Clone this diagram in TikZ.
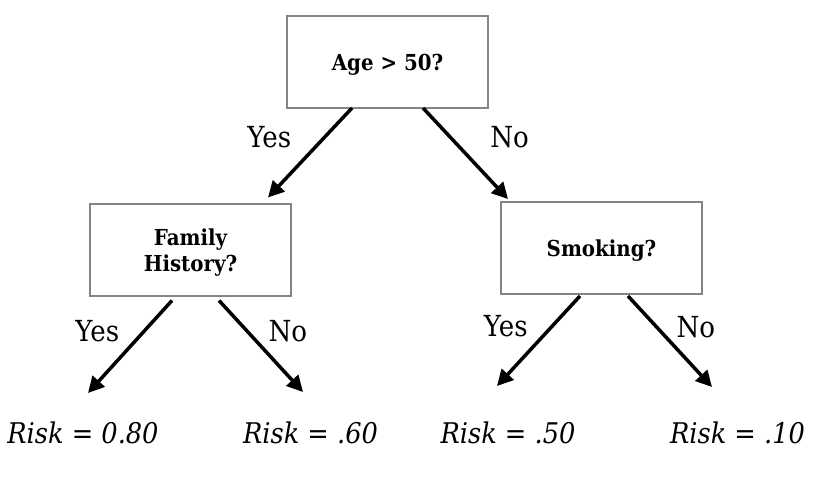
\documentclass[tikz,border=0pt]{standalone}
\usepackage{fontspec}
\setmainfont{DejaVu Serif}[FakeStretch=0.9]
\usepackage{tikz}
\usetikzlibrary{arrows.meta,positioning}
\definecolor{boxgray}{HTML}{858585}

\begin{document}
\begin{tikzpicture}[
    x=1pt,y=1pt,
    test/.style={draw=boxgray,line width=2pt,minimum width=201pt,minimum height=92pt,text depth=0pt,align=center,font=\fontsize{22}{26}\selectfont\bfseries},
    leaf/.style={anchor=base,font=\fontsize{28.5}{32}\selectfont\itshape},
    branch/.style={-{Triangle[length=16pt,width=16pt]},line width=3.5pt,black},
    ans/.style={font=\fontsize{29}{32}\selectfont}
]
\useasboundingbox (0,0) rectangle (823,484);
\node[test] (age) at (387.5,422) {Age > 50?};
\node[test] (fam) at (190.5,233.5) {Family\\History?};
\node[test] (smk) at (601.5,236) {Smoking?};

\node[leaf] (r1) at (83,40) {Risk = 0.80};
\node[leaf] (r2) at (310.5,40) {Risk = .60};
\node[leaf] (r3) at (508,40) {Risk = .50};
\node[leaf] (r4) at (737.5,40) {Risk = .10};

\draw[branch] ([xshift=-35.5pt,yshift=1pt]age.south) -- node[pos=0.33,left=28pt,ans] {Yes} ([xshift=77.5pt,yshift=6pt]fam.north);
\draw[branch] ([xshift=35.5pt,yshift=1pt]age.south) -- node[pos=0.32,right=35pt,ans] {No} ([xshift=-93.5pt,yshift=2pt]smk.north);
\draw[branch] ([xshift=-18.5pt,yshift=-3pt]fam.south) -- node[pos=0.33,left=20pt,ans] {Yes} ([xshift=5pt,yshift=51pt]r1.base);
\draw[branch] ([xshift=28.5pt,yshift=-3pt]fam.south) -- node[pos=0.34,right=16pt,ans] {No} ([xshift=-7.5pt,yshift=52pt]r2.base);
\draw[branch] ([xshift=-21.5pt,yshift=-1pt]smk.south) -- node[pos=0.34,left=19pt,ans] {Yes} ([xshift=-11pt,yshift=58pt]r3.base);
\draw[branch] ([xshift=26.5pt,yshift=-1pt]smk.south) -- node[pos=0.34,right=15pt,ans] {No} ([xshift=-25.5pt,yshift=57pt]r4.base);

\end{tikzpicture}
\end{document}
